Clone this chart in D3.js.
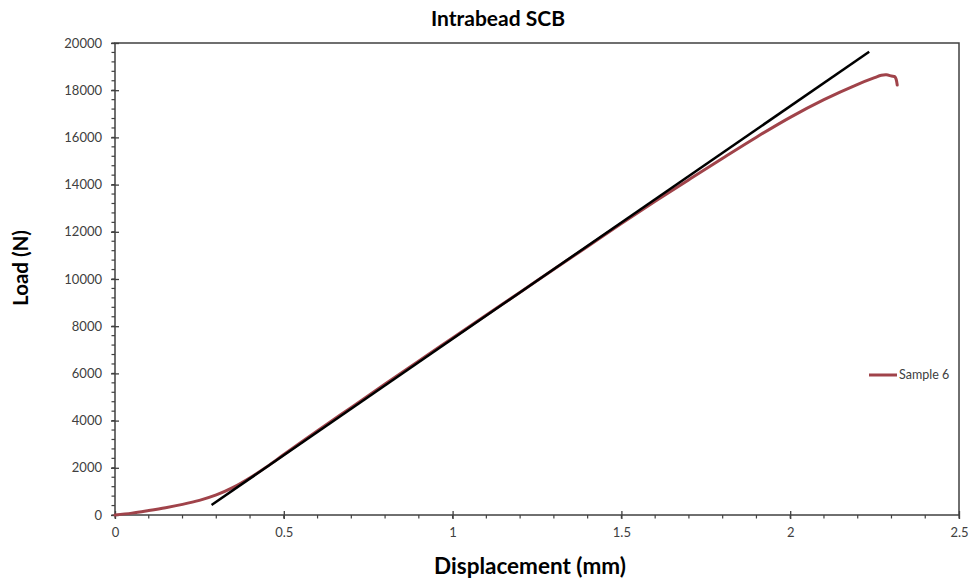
<!DOCTYPE html>
<html>
<head>
<meta charset="utf-8">
<script src="https://cdn.jsdelivr.net/npm/d3@7"></script>
<style>
  html, body { margin: 0; padding: 0; background: #fff; }
  svg { display: block; font-family: Lato, "Open Sans", sans-serif; }
</style>
</head>
<body>
<svg id="chart" width="970" height="581"></svg>
<script>
// Measured load–displacement response, Sample 6
const displacement = [0, 0.05, 0.1, 0.15, 0.2, 0.25, 0.3, 0.35, 0.4, 0.45, 0.5, 0.6, 0.7, 0.8, 0.9, 1.0,
  1.1, 1.2, 1.3, 1.4, 1.5, 1.6, 1.7, 1.8, 1.9, 2.0, 2.1, 2.2, 2.25, 2.27, 2.285, 2.3, 2.31, 2.314, 2.317];
const load = [0, 80, 190, 310, 450, 620, 850, 1170, 1580, 2050, 2560, 3570, 4560, 5550, 6530, 7500,
  8470, 9440, 10410, 11380, 12350, 13290, 14210, 15120, 16010, 16850, 17600, 18250, 18530, 18630, 18650,
  18600, 18570, 18450, 18220];

// Linear stiffness fit line
const fitX = [0.286, 2.234];
const fitY = [424, 19630];

const seriesName = "Sample 6";
const xTicks = [0, 0.5, 1, 1.5, 2, 2.5];
const yTicks = [0, 2000, 4000, 6000, 8000, 10000, 12000, 14000, 16000, 18000, 20000];

const svg = d3.select("#chart");
const m = { left: 115, right: 959, top: 43, bottom: 515 };

const x = d3.scaleLinear().domain([0, 2.5]).range([m.left, m.right]);
const y = d3.scaleLinear().domain([0, 20000]).range([m.bottom, m.top]);

const axisColor = "#404040";
const labelColor = "#404040";

// Plot frame
svg.append("rect")
  .attr("x", m.left).attr("y", m.top)
  .attr("width", m.right - m.left).attr("height", m.bottom - m.top)
  .attr("fill", "none").attr("stroke", axisColor).attr("stroke-width", 1.5);

// Minor ticks (outside)
const xMinor = d3.range(0, 2.5001, 0.1);
const yMinor = d3.range(0, 20001, 400);
svg.append("g").selectAll("line").data(xMinor).join("line")
  .attr("x1", d => x(d)).attr("x2", d => x(d))
  .attr("y1", m.bottom).attr("y2", m.bottom + 3.5)
  .attr("stroke", axisColor).attr("stroke-width", 1.2);
svg.append("g").selectAll("line").data(yMinor).join("line")
  .attr("y1", d => y(d)).attr("y2", d => y(d))
  .attr("x1", m.left - 3.5).attr("x2", m.left)
  .attr("stroke", axisColor).attr("stroke-width", 1.2);

// Major axes: ticks cross the axis line
const xAxis = svg.append("g")
  .attr("transform", `translate(0,${m.bottom})`)
  .call(d3.axisBottom(x).tickValues(xTicks).tickSize(4).tickPadding(9)
    .tickFormat(d => d3.format("")(d)));
xAxis.select(".domain").remove();
xAxis.selectAll(".tick line").attr("y1", -4).attr("y2", 4).attr("stroke", axisColor).attr("stroke-width", 1.3);
xAxis.selectAll("text").attr("fill", labelColor).attr("font-size", 13).attr("font-family", "Lato, sans-serif");

const yAxis = svg.append("g")
  .attr("transform", `translate(${m.left},0)`)
  .call(d3.axisLeft(y).tickValues(yTicks).tickSize(4).tickPadding(9).tickFormat(d3.format("d")));
yAxis.select(".domain").remove();
yAxis.selectAll(".tick line").attr("x1", -4).attr("x2", 4).attr("stroke", axisColor).attr("stroke-width", 1.3);
yAxis.selectAll("text").attr("fill", labelColor).attr("font-size", 13).attr("font-family", "Lato, sans-serif");

// Data curve
const pts = displacement.map((d, i) => [d, load[i]]);
svg.append("path")
  .datum(pts)
  .attr("d", d3.line().x(d => x(d[0])).y(d => y(d[1])).curve(d3.curveCatmullRom.alpha(0.5)))
  .attr("fill", "none").attr("stroke", "#a0434a").attr("stroke-width", 3)
  .attr("stroke-linejoin", "round").attr("stroke-linecap", "round");

// Fit line
svg.append("path")
  .datum(fitX.map((d, i) => [d, fitY[i]]))
  .attr("d", d3.line().x(d => x(d[0])).y(d => y(d[1])))
  .attr("fill", "none").attr("stroke", "#000").attr("stroke-width", 2.5);

// Legend
const lg = svg.append("g");
lg.append("line").attr("x1", 869).attr("x2", 897).attr("y1", 375).attr("y2", 375)
  .attr("stroke", "#a0434a").attr("stroke-width", 3);
lg.append("text").attr("x", 899).attr("y", 375).attr("dy", "0.35em")
  .attr("font-size", 12.5).attr("fill", labelColor).text(seriesName);

// Titles
svg.append("text").attr("x", 498).attr("y", 26).attr("text-anchor", "middle")
  .attr("font-size", 21).attr("font-weight", "bold").attr("fill", "#000").text("Intrabead SCB");
svg.append("text").attr("x", 530).attr("y", 574).attr("text-anchor", "middle")
  .attr("font-size", 22.5).attr("font-weight", "bold").attr("fill", "#000").text("Displacement (mm)");
svg.append("text").attr("transform", "translate(28,268) rotate(-90)").attr("text-anchor", "middle")
  .attr("font-size", 20.5).attr("font-weight", "bold").attr("fill", "#000").text("Load (N)");
</script>
</body>
</html>
